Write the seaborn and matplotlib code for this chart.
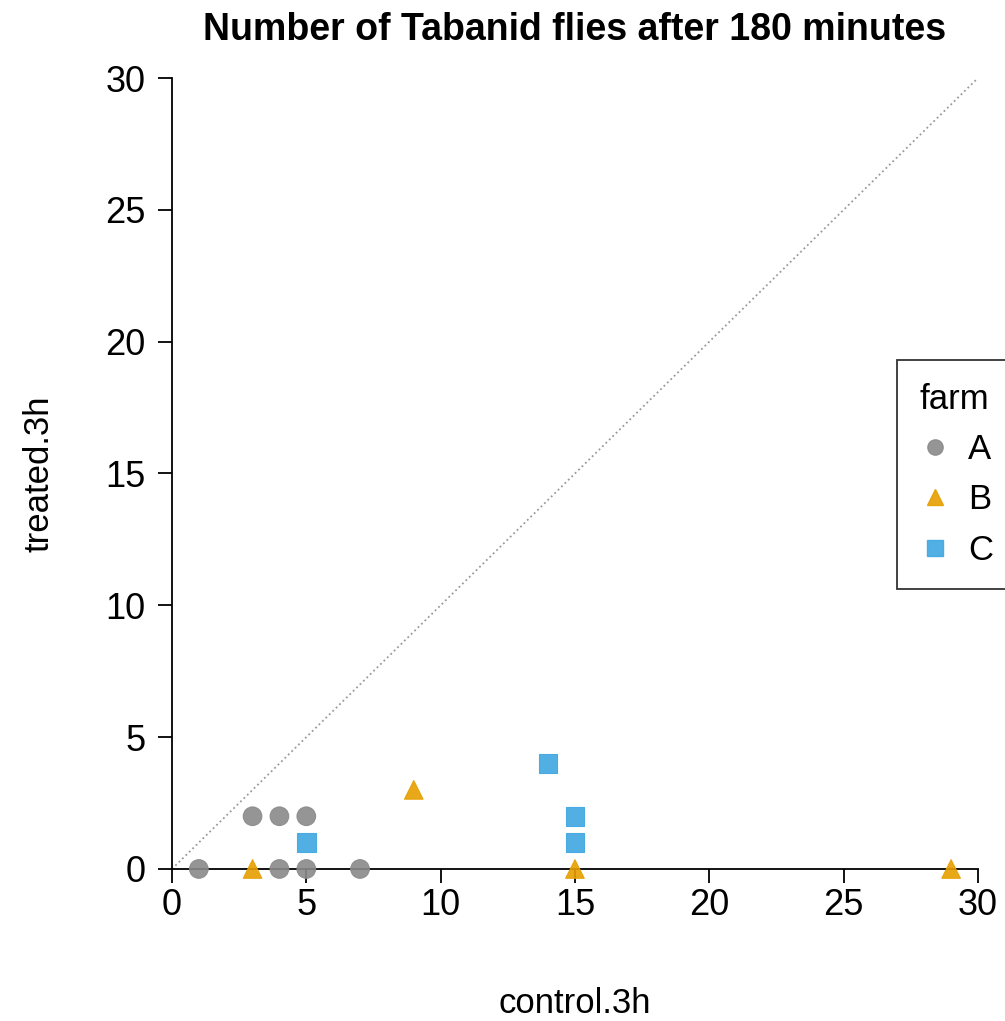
import pandas as pd
import matplotlib.pyplot as plt
import seaborn as sns

# ========== data ==========
farm = ["A", "A", "A", "A", "A", "A", "A",
        "B", "B", "B", "B",
        "C", "C", "C", "C"]
control_3h = [1, 3, 4, 5, 4, 5, 7,
              3, 9, 15, 29,
              5, 14, 15, 15]
treated_3h = [0, 2, 2, 2, 0, 0, 0,
              0, 3, 0, 0,
              1, 4, 2, 1]
farm_order = ["A", "B", "C"]
farm_colors = ["#8a8a8a", "#E69F00", "#3fa7e0"]
farm_markers = ["o", "^", "s"]

df = pd.DataFrame({"control.3h": control_3h, "treated.3h": treated_3h, "farm": farm})

sns.set_style("ticks")
plt.rcParams["font.family"] = ["Liberation Sans", "DejaVu Sans"]
for k in ["text.color", "axes.labelcolor", "xtick.color", "ytick.color", "axes.edgecolor"]:
    plt.rcParams[k] = "black"

fig = plt.figure(figsize=(10.05, 10.21), dpi=100)
ax = fig.add_axes([0.1711, 0.1489, 0.802, 0.7747])

# diagonal reference line
ax.plot([0, 30], [0, 30], ls=":", color="#9a9a9a", lw=1.3, zorder=1)

sns.scatterplot(data=df, x="control.3h", y="treated.3h", hue="farm", style="farm",
                hue_order=farm_order, style_order=farm_order,
                palette=dict(zip(farm_order, farm_colors)),
                markers=dict(zip(farm_order, farm_markers)),
                s=180, alpha=0.9, linewidth=0.8, edgecolor=None,
                clip_on=False, zorder=3, ax=ax, legend=False)

ax.set_xlim(0, 30)
ax.set_ylim(0, 30)
ax.set_xticks(range(0, 31, 5))
ax.set_yticks(range(0, 31, 5))
ax.tick_params(axis="both", length=10, width=1.3, labelsize=26, color="black")
ax.tick_params(axis="x", pad=4)
ax.tick_params(axis="y", pad=9)
for s in ["left", "bottom"]:
    ax.spines[s].set_linewidth(1.3)
sns.despine(ax=ax)

ax.set_xlabel("control.3h", fontsize=25, labelpad=46)
ax.set_ylabel("treated.3h", fontsize=25, labelpad=36)
fig.suptitle("Number of Tabanid flies after 180 minutes", fontsize=27,
             fontweight="bold", x=0.572, y=0.988)

# legend (partly off the right edge, as in the original)
handles = [plt.Line2D([], [], ls="", marker=m, color=c, markersize=11, alpha=0.9)
           for m, c in zip(farm_markers, farm_colors)]
leg = fig.legend(handles, farm_order, title="farm", loc="upper left",
                 bbox_to_anchor=(0.8925, 1 - 360 / 1021), borderaxespad=0,
                 fontsize=25, title_fontsize=25,
                 frameon=True, fancybox=False, edgecolor="black", handletextpad=0.5,
                 labelspacing=0.5, borderpad=0.65, handlelength=0.9)
leg.get_frame().set_linewidth(1.3)
leg._legend_box.align = "left"

fig.savefig("out.png", dpi=100)
